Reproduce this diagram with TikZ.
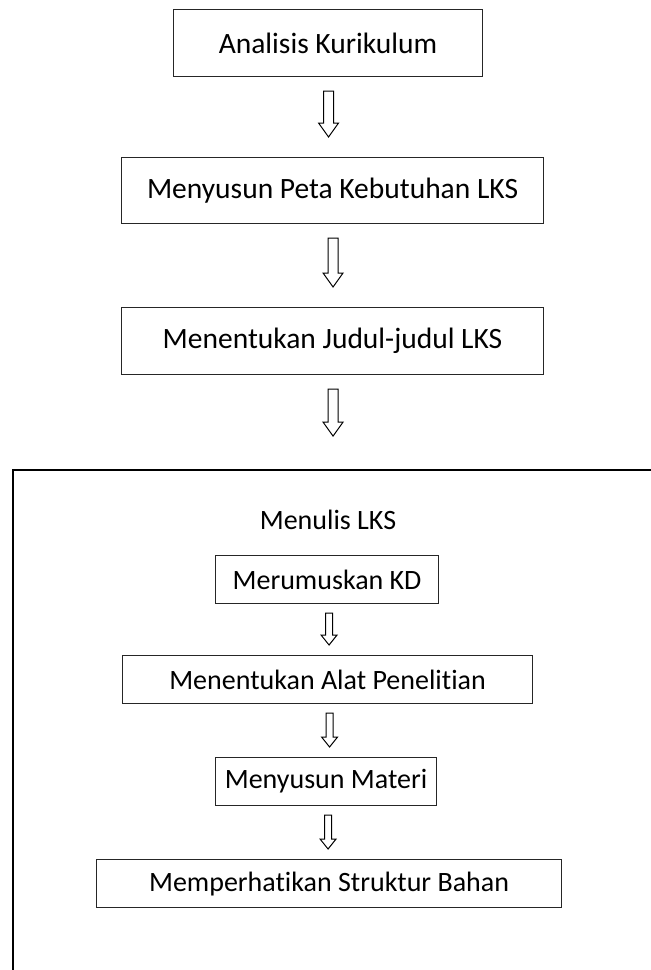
\documentclass[tikz,border=0pt]{standalone}
\usepackage{fontspec}
\setmainfont{Carlito}[Ligatures=NoCommon]
\usetikzlibrary{calc}
\tikzset{
  x=1pt,y=1pt,
  stepbox/.style={draw=black!85, line width=1.1pt, inner sep=0pt, font=\fontsize{29.5}{34}\selectfont, anchor=north west},
  innerbox/.style={stepbox, font=\fontsize{28}{32}\selectfont},
  arrowline/.style={draw=black, line width=1pt, fill=white},
  frameline/.style={draw=black, line width=2.4pt},
}
\newcommand\blockarrow[5]{%
  \draw[arrowline] let \p1=(#1), \p2=(#2) in
    (\x1-#3,\y1) -- (\x1+#3,\y1) -- (\x1+#3,\y2+#5) -- (\x1+#4,\y2+#5) -- (\x1,\y2)
    -- (\x1-#4,\y2+#5) -- (\x1-#3,\y2+#5) -- cycle;}
\begin{document}
\begin{tikzpicture}
\useasboundingbox (0,0) rectangle (651,-970);
% outer boxes
\node[stepbox, minimum width=309, minimum height=67] (b1) at (173,-9) {Analisis Kurikulum};
\node[stepbox, minimum width=422, minimum height=66] (b2) at (121,-157) {Menyusun Peta Kebutuhan LKS};
\node[stepbox, minimum width=422, minimum height=67] (b3) at (121,-307) {Menentukan Judul-judul LKS};
% arrows
\coordinate (a1s) at ($(b1.south)+(0.5,-14)$);
\coordinate (a1e) at ($(b2.north)+(0.5,20)$);
\blockarrow{a1s}{a1e}{5}{10}{14}
\coordinate (a2s) at ($(b2.south)+(0.5,-14)$);
\coordinate (a2e) at ($(b3.north)+(0.5,20)$);
\blockarrow{a2s}{a2e}{5}{10}{14}
% frame
\coordinate (fl) at (13,-470);
\coordinate (fr) at (651,-470);
\coordinate (fb) at (13,-970);
\draw[frameline] (fr) -- (fl) -- (fb);
\coordinate (a3s) at ($(b3.south)+(0.5,-14)$);
\coordinate (a3e) at ($(a3s)+(0,-47)$);
\blockarrow{a3s}{a3e}{5}{10}{14}
\node[font=\fontsize{28}{32}\selectfont] (title) at (328,-520) {Menulis LKS};
% inner boxes
\node[innerbox, minimum width=223, minimum height=48] (c1) at (215,-555) {Merumuskan KD};
\node[innerbox, minimum width=410, minimum height=48] (c2) at (122,-655) {Menentukan Alat Penelitian};
\node[innerbox, minimum width=221, minimum height=48] (c3) at (215,-757) {Menyusun Materi};
\node[innerbox, minimum width=465, minimum height=48] (c4) at (96,-859) {Memperhatikan Struktur Bahan};
\coordinate (i1s) at ($(c1.south)+(2,-9)$);
\coordinate (i1e) at ($(c2.north)+(2,10)$);
\blockarrow{i1s}{i1e}{3.5}{8}{10}
\coordinate (i2s) at ($(c2.south)+(2,-9)$);
\coordinate (i2e) at ($(c3.north)+(2,10)$);
\blockarrow{i2s}{i2e}{3.5}{8}{10}
\coordinate (i3s) at ($(c3.south)+(2,-9)$);
\coordinate (i3e) at ($(c4.north)+(2,10)$);
\blockarrow{i3s}{i3e}{3.5}{8}{10}
\end{tikzpicture}
\end{document}
